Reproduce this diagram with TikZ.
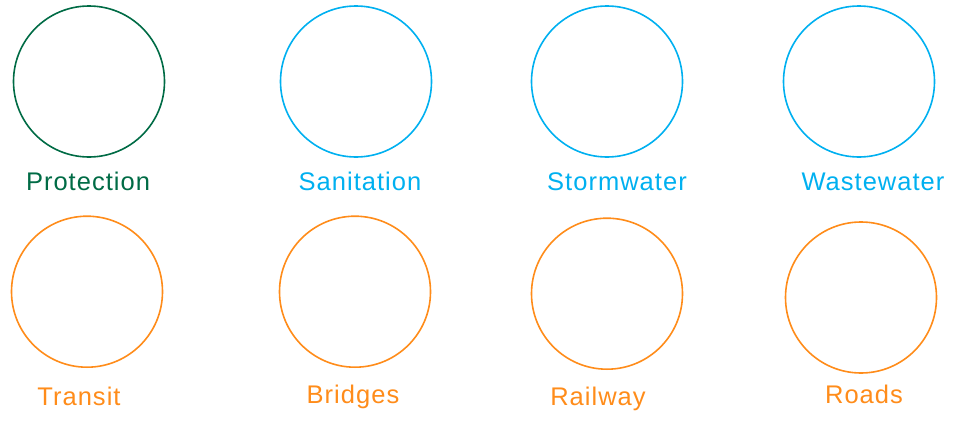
\documentclass[tikz,border=0pt]{standalone}
\usepackage{fontspec}
\setmainfont[LetterSpace=4]{Liberation Sans}
\definecolor{protgreen}{RGB}{0,107,69}
\definecolor{waterblue}{RGB}{0,176,240}
\definecolor{roadorange}{RGB}{255,140,26}
\begin{document}
\begin{tikzpicture}[x=1pt,y=-1pt,
  ring/.style={circle,line width=1.6pt,minimum size=151pt,inner sep=0pt},
  caption/.style={anchor=base,inner sep=0pt}]
                    \useasboundingbox (0,0) rectangle (956,423);
                    {\fontsize{25.5pt}{30pt}\selectfont

                    % Marking circle Protection
                    \node (prot) [ring,draw=protgreen] at (89,81.5) {};%
                    \node (protlbl) [caption,text=protgreen] at (88,190) {Protection};%

                    % Marking circle Sanitation
                    \node (sani) [ring,draw=waterblue] at (356,81.5) {};%
                    \node (sanilbl) [caption,text=waterblue] at (360,190) {Sanitation};%

                    % Marking circle Stormwater
                    \node (storm) [ring,draw=waterblue] at (607,81.5) {};%
                    \node (stormlbl) [caption,text=waterblue] at (617,190) {Stormwater};%

                    % Marking circle Wastewater
                    \node (waste) [ring,draw=waterblue] at (859,81.5) {};%
                    \node (wastelbl) [caption,text=waterblue] at (873,190) {Wastewater};%

                    % Marking circle Transit
                    \node (trans) [ring,draw=roadorange] at (87,291.7) {};%
                    \node (translbl) [caption,text=roadorange] at (79,405) {Transit};%

                    % Marking circle Bridges
                    \node (brid) [ring,draw=roadorange] at (355,291.7) {};%
                    \node (bridlbl) [caption,text=roadorange] at (353,403.3) {Bridges};%

                    % Marking circle Railway
                    \node (rail) [ring,draw=roadorange] at (607,293.7) {};%
                    \node (raillbl) [caption,text=roadorange] at (598,405) {Railway};%

                    % Marking circle Roads
                    \node (road) [ring,draw=roadorange] at (861,297.5) {};%
                    \node (roadlbl) [caption,text=roadorange] at (864,403.3) {Roads};%
                    }
\end{tikzpicture}
\end{document}
